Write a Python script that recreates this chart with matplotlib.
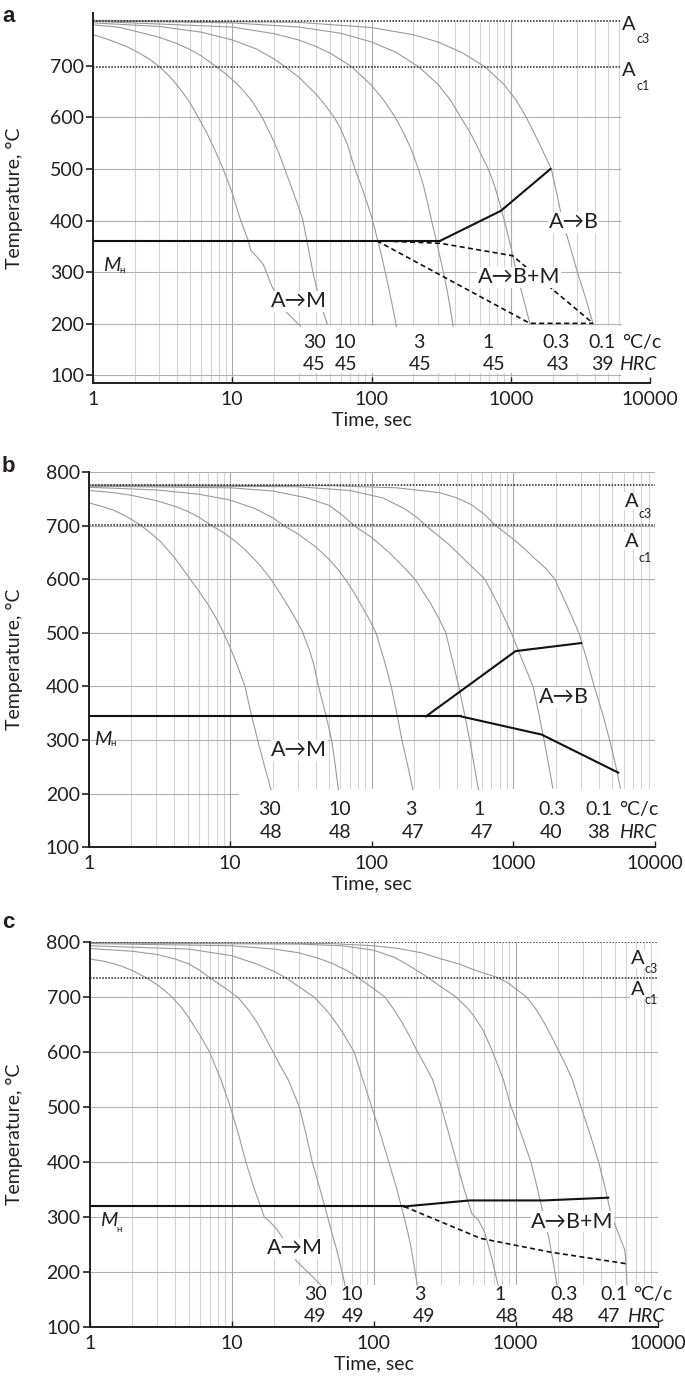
import matplotlib.pyplot as plt
from matplotlib.patches import Rectangle

plt.rcParams['font.family'] = ['Lato', 'DejaVu Sans']

TXT = '#231f20'
CURVE = '#9a9a9a'

t_ticks = [1, 10, 100, 1000, 10000]
rates = ['30', '10', '3', '1', '0.3', '0.1']

# ---------------- panel a ----------------
a_ac3, a_ac1 = 787, 697
a_hrc = ['45', '45', '45', '45', '43', '39']
a_rate_x = [39, 64, 217, 690, 2115, 4520]
a_hrc_x = [39, 66, 225, 753, 2190, 4520]
a_curve_t = [
    [1, 1.25, 1.5, 1.75, 2, 2.5, 3, 3.5, 4, 4.5, 5, 5.7, 6.5, 7.5, 8.6, 10, 11.5, 13, 13.6,
     15, 16.7, 19.3, 24, 31],
    [1, 1.5, 2, 3, 4, 5, 6, 7, 7.7, 9, 10.5, 12, 14, 16.4, 19, 21.5, 23.8, 27, 30, 32, 35,
     38, 43, 48],
    [1, 3, 6, 10, 15, 20, 24, 30, 40, 47, 54, 60, 67, 76, 85, 94, 102, 110, 118, 128, 140,
     151],
    [1, 10, 20, 30, 40, 50, 60, 72, 100, 125, 148, 170, 195, 217, 235, 255, 270, 290, 310,
     330, 348, 368, 386],
    [1, 10, 30, 60, 100, 150, 220, 300, 370, 437, 500, 560, 620, 690, 760, 820, 900, 1000,
     1100, 1230, 1374],
    [1, 30, 100, 200, 300, 450, 652, 900, 1100, 1294, 1600, 1955, 2150, 2350, 2700, 3010,
     3450, 3900],
]
a_curve_T = [
    [760, 752, 744, 737, 729, 714, 698, 681, 663, 645, 627, 600, 572, 537, 500, 453, 400,
     362, 342, 330, 315, 272, 225, 195],
    [779, 775, 767, 755, 743, 731, 719, 706, 698, 684, 668, 652, 630, 600, 565, 532, 500,
     460, 425, 403, 350, 299, 240, 200],
    [783, 776, 765, 750, 732, 713, 698, 678, 645, 622, 600, 578, 548, 500, 465, 430, 400,
     365, 332, 290, 240, 195],
    [786, 775, 762, 750, 737, 725, 712, 698, 662, 630, 600, 570, 535, 500, 470, 430, 400,
     365, 330, 297, 267, 230, 195],
    [787, 783, 775, 763, 746, 726, 697, 664, 633, 600, 575, 550, 525, 500, 470, 440, 400,
     350, 300, 250, 200],
    [788, 784, 774, 760, 746, 725, 698, 663, 632, 600, 550, 500, 450, 400, 345, 300, 250,
     200],
]
a_ms_t, a_ms_T = [1, 312], [361, 361]
a_bs_t, a_bs_T = [312, 850, 1930], [361, 419, 500]
a_d1_t, a_d1_T = [109, 312, 1030, 3900], [361, 356, 332, 201]
a_d2_t, a_d2_T = [109, 1370, 3900], [361, 201, 201]

# ---------------- panel b ----------------
b_ac3, b_ac1 = 776, 702
b_hrc = ['48', '48', '47', '47', '40', '38']
b_rate_x = [19, 59.5, 188, 570, 1860, 4000]
b_hrc_x = [19.4, 60, 194, 605, 1860, 4000]
b_curve_t = [
    [1, 1.25, 1.5, 1.75, 2, 2.3, 2.7, 3.2, 4, 5, 6, 7, 8, 8.9, 10, 11, 12, 12.7, 14, 15.6,
     17.5, 19.4],
    [1, 1.5, 2, 3, 4, 5, 6, 7.4, 9, 11, 13, 16, 19.4, 23, 27, 32, 36, 39, 42, 47, 52, 55, 58],
    [1, 3, 6, 10, 15, 20, 24, 30, 40, 50, 57, 65, 75, 85, 96, 107, 122, 137, 150, 163, 180,
     195],
    [1, 10, 20, 35, 50, 62, 75, 100, 130, 165, 202, 260, 300, 333, 370, 411, 450, 491, 530,
     566],
    [1, 30, 70, 120, 170, 210, 241, 300, 350, 420, 480, 550, 630, 790, 966, 1150, 1376, 1510,
     1645, 1770, 1897],
    [1, 50, 150, 300, 400, 500, 620, 753, 1000, 1200, 1400, 1700, 1964, 2400, 2900, 3300,
     3720, 4250, 4780, 5250, 5700],
]
b_curve_T = [
    [743, 736, 729, 721, 712, 702, 688, 671, 642, 607, 578, 552, 526, 502, 472, 445, 418,
     400, 350, 300, 250, 207],
    [766, 762, 757, 747, 737, 727, 716, 700, 687, 670, 653, 628, 600, 570, 540, 505, 470,
     440, 400, 350, 300, 255, 207],
    [772, 767, 759, 748, 732, 715, 700, 685, 661, 637, 620, 600, 575, 550, 525, 500, 450,
     400, 350, 300, 250, 207],
    [774, 771, 765, 752, 738, 720, 700, 678, 652, 625, 600, 555, 525, 500, 450, 400, 350,
     300, 250, 207],
    [775, 773, 766, 752, 732, 715, 700, 680, 665, 645, 630, 615, 600, 550, 500, 450, 400,
     350, 300, 255, 210],
    [776, 775, 771, 762, 752, 740, 722, 700, 675, 657, 640, 620, 600, 550, 500, 450, 400,
     350, 300, 255, 210],
]
b_ms_t, b_ms_T = [1, 426], [344, 344]
b_bs_t, b_bs_T = [241, 1036, 3010], [344, 466, 481]
b_bf_t, b_bf_T = [426, 1585, 5500], [344, 310, 239]

# ---------------- panel c ----------------
c_ac3, c_ac1 = 800, 735
c_hrc = ['49', '49', '49', '48', '48', '47']
c_rate_x = [39, 70, 213, 780, 2210, 4900]
c_hrc_x = [39, 71.5, 226, 866, 2170, 4570]
c_curve_t = [
    [1, 1.25, 1.5, 1.75, 2, 2.5, 3, 3.4, 3.8, 4.4, 5, 6, 7, 8.4, 9.8, 11.2, 12.6, 14.5, 17,
     18.3, 20.5, 22.6, 25.5, 28.8, 35, 42.7],
    [1, 2, 3, 4, 5, 6, 7, 9, 11, 13, 15, 17, 19.6, 22, 25, 30, 33.5, 37, 42, 47.5, 51, 55,
     59, 63],
    [1, 5, 10, 15, 20, 24, 30, 38, 45, 50, 60, 73, 84, 97, 112, 128, 146, 164, 175, 185,
     194, 203],
    [1, 10, 20, 30, 40, 50, 65, 78, 100, 120, 140, 160, 180, 204, 230, 260, 300, 340, 384,
     435, 492, 547, 580, 609, 680, 753],
    [1, 30, 60, 100, 140, 170, 205, 242, 300, 380, 450, 500, 590, 690, 820, 930, 1100, 1282,
     1430, 1585, 1720, 1850, 1960],
    [1, 50, 100, 150, 220, 290, 400, 500, 620, 754, 900, 1000, 1194, 1400, 1600, 1800, 2030,
     2270, 2510, 2890, 3350, 3845, 4300, 4750, 5300, 5880, 6000, 6090],
]
c_curve_T = [
    [769, 765, 760, 754, 748, 735, 722, 711, 700, 682, 662, 630, 600, 550, 500, 450, 400,
     350, 300, 293, 280, 264, 242, 219, 198, 176],
    [788, 783, 777, 769, 760, 748, 735, 716, 700, 678, 655, 630, 600, 575, 550, 500, 450,
     400, 350, 300, 270, 240, 208, 176],
    [793, 787, 775, 760, 746, 735, 718, 700, 680, 666, 637, 600, 550, 500, 450, 400, 350,
     300, 270, 240, 208, 176],
    [797, 793, 787, 780, 771, 762, 748, 735, 715, 700, 676, 652, 628, 600, 576, 550, 500,
     450, 400, 350, 306, 294, 282, 270, 225, 176],
    [798, 796, 793, 785, 772, 760, 747, 735, 718, 700, 682, 668, 640, 600, 550, 500, 450,
     400, 350, 300, 260, 215, 176],
    [799, 797, 793, 788, 780, 770, 760, 750, 742, 735, 724, 715, 700, 677, 652, 627, 600,
     575, 550, 500, 450, 400, 350, 300, 270, 240, 215, 176],
]
c_ms_t, c_ms_T = [1, 164], [319, 319]
c_bs_t, c_bs_T = [164, 475, 1585, 4500], [319, 330, 330, 335]
c_d_t, c_d_T = [164, 568, 1760, 6000], [319, 261, 236, 215]


def setup(ax, ylim, yticks):
    ax.set_xscale('log')
    ax.set_xlim(1, 10000)
    ax.set_ylim(*ylim)
    ax.minorticks_off()
    ax.set_xticks(t_ticks)
    ax.set_xticklabels([str(v) for v in t_ticks])
    ax.set_yticks(yticks)
    for s in ['top', 'right']:
        ax.spines[s].set_visible(False)
    for s in ['left', 'bottom']:
        ax.spines[s].set_linewidth(1.4)
        ax.spines[s].set_color(TXT)
    ax.tick_params(axis='y', direction='out', length=5, width=1.2, pad=1.5,
                   labelsize=14, colors=TXT)
    ax.tick_params(axis='x', direction='in', length=4, width=1.0, pad=6,
                   labelsize=14, colors=TXT)
    ax.set_xlabel('Time, sec', fontsize=14, color=TXT, labelpad=2)
    ax.set_ylabel('Temperature, °C', fontsize=14, color=TXT)
    ax.patch.set_visible(False)


def grid(ax, hlines, h_right, v_bottom, v_top, v_right):
    xs = [k * 10 ** n for n in range(4) for k in range(1, 10)] + [10000]
    for x in xs:
        if x <= 1 or x > v_right:
            continue
        major = x in (10, 100, 1000, 10000)
        ax.vlines(x, v_bottom, v_top, color='#a9a9a9' if major else '#d4d4d4',
                  lw=0.8, zorder=0.5)
    ax.hlines(hlines, 1, h_right, color='#b0b0b0', lw=0.8, zorder=0.6)


def curves(ax, ts, Ts):
    for t, T in zip(ts, Ts):
        ax.plot(t, T, color=CURVE, lw=0.8, zorder=2)


def sub_text(ax, x, y, main, sub, italic=False, dx=9, dy=-4, size=14.5,
             subsize=9, box=False):
    kw = dict(bbox=dict(facecolor='white', edgecolor='none', pad=0.5)) if box else {}
    ax.text(x, y, main, fontsize=size, color=TXT, ha='left', va='baseline',
            style='italic' if italic else 'normal', zorder=5, **kw)
    ax.annotate(sub, xy=(x, y), xytext=(dx, dy), textcoords='offset points',
                fontsize=subsize, color=TXT, ha='left', va='baseline', zorder=5)


def label(ax, x, y, s):
    ax.text(x, y, s, fontsize=15.5, color=TXT, ha='center', va='center', zorder=5,
            bbox=dict(facecolor='white', edgecolor='none', pad=0.3))


def rate_rows(ax, rx, ry, hx, hrc, hy, unit_x, hrc_unit_x):
    for x, r in zip(rx, rates):
        ax.text(x, ry, r, fontsize=14, color=TXT, ha='center', va='center', zorder=5)
    for x, h in zip(hx, hrc):
        ax.text(x, hy, h, fontsize=14, color=TXT, ha='center', va='center', zorder=5)
    ax.text(unit_x, ry, '°C/c', fontsize=14, color=TXT, ha='left', va='center', zorder=5)
    ax.text(hrc_unit_x, hy, 'HRC', fontsize=14, color=TXT, ha='left', va='center',
            style='italic', zorder=5)


fig = plt.figure(figsize=(6.85, 13.87), dpi=100)
ax_a = fig.add_axes([0.1358, 0.7239, 0.8131, 0.2669])
ax_b = fig.add_axes([0.1295, 0.3893, 0.8267, 0.2702])
ax_c = fig.add_axes([0.1308, 0.0433, 0.8291, 0.2776])

# ---- a ----
ax = ax_a
setup(ax, (85.5, 802.6), [100, 200, 300, 400, 500, 600, 700])
grid(ax, [100, 200, 300, 400, 500, 600], 6200, 85.5, a_ac3, 6000)
ax.add_patch(Rectangle((24, 104), 9000, 92, facecolor='white', edgecolor='none', zorder=1))
curves(ax, a_curve_t, a_curve_T)
ax.hlines([a_ac3, a_ac1], 1, 6200, color=TXT, lw=1.1, linestyles=(0, (1, 1)), zorder=3)
ax.plot(a_ms_t, a_ms_T, color='#111', lw=1.5, zorder=4)
ax.plot(a_bs_t, a_bs_T, color='#111', lw=1.5, zorder=4)
ax.plot(a_d1_t, a_d1_T, color='#111', lw=1.2, ls=(0, (3, 2)), zorder=4)
ax.plot(a_d2_t, a_d2_T, color='#111', lw=1.2, ls=(0, (3, 2)), zorder=4)
label(ax, 2820, 397, 'A→B')
label(ax, 1145, 290, 'A→B+M')
label(ax, 30, 244, 'A→M')
sub_text(ax, 1.17, 302, 'M', 'н', italic=True, dx=12, dy=-1, subsize=7)
sub_text(ax, 6320, 770, 'A', 'c3', dx=10, dy=-10)
sub_text(ax, 6320, 680, 'A', 'c1', dx=10, dy=-10)
rate_rows(ax, a_rate_x, 163, a_hrc_x, a_hrc, 121, 6300, 5950)

# ---- b ----
ax = ax_b
setup(ax, (100, 800), [100, 200, 300, 400, 500, 600, 700, 800])
grid(ax, [300, 400, 500, 600, 700, 800], 10000, 100, 800, 10000)
ax.hlines(200, 1, 11.6, color='#b0b0b0', lw=0.8, zorder=0.6)
ax.add_patch(Rectangle((11.6, 101), 10000, 107, facecolor='white', edgecolor='none', zorder=1))
curves(ax, b_curve_t, b_curve_T)
ax.hlines([b_ac3, b_ac1], 1, 10000, color=TXT, lw=1.1, linestyles=(0, (1, 1)), zorder=3)
ax.plot(b_ms_t, b_ms_T, color='#111', lw=1.5, zorder=4)
ax.plot(b_bs_t, b_bs_T, color='#111', lw=1.5, zorder=4)
ax.plot(b_bf_t, b_bf_T, color='#111', lw=1.5, zorder=4)
label(ax, 2264, 380, 'A→B')
label(ax, 30.7, 281, 'A→M')
sub_text(ax, 1.09, 291, 'M', 'н', italic=True, dx=12, dy=-1, subsize=7)
sub_text(ax, 6140, 736, 'A', 'c3', dx=10, dy=-8, box=True)
sub_text(ax, 6140, 661, 'A', 'c1', dx=10, dy=-11, box=True)
rate_rows(ax, b_rate_x, 171, b_hrc_x, b_hrc, 128, 5600, 5600)

# ---- c ----
ax = ax_c
setup(ax, (100, 800), [100, 200, 300, 400, 500, 600, 700, 800])
grid(ax, [200, 300, 400, 500, 600, 700], 10000, 100, 800, 10000)
ax.add_patch(Rectangle((28, 101), 10000, 76, facecolor='white', edgecolor='none', zorder=1))
curves(ax, c_curve_t, c_curve_T)
ax.hlines([c_ac3, c_ac1], 1, 10000, color=TXT, lw=1.1, linestyles=(0, (1, 1)), zorder=3)
ax.plot(c_ms_t, c_ms_T, color='#111', lw=1.5, zorder=4)
ax.plot(c_bs_t, c_bs_T, color='#111', lw=1.5, zorder=4)
ax.plot(c_d_t, c_d_T, color='#111', lw=1.2, ls=(0, (3, 2)), zorder=4)
label(ax, 2510, 291, 'A→B+M')
label(ax, 27.9, 243, 'A→M')
sub_text(ax, 1.18, 283, 'M', 'н', italic=True, dx=12, dy=-4, subsize=7)
sub_text(ax, 6500, 759, 'A', 'c3', dx=10, dy=-6, box=True)
sub_text(ax, 6500, 703, 'A', 'c1', dx=10, dy=-6, box=True)
rate_rows(ax, c_rate_x, 159, c_hrc_x, c_hrc, 118.5, 6700, 6100)

for ax in (ax_a, ax_b, ax_c):
    pos = ax.get_position()
    ax.yaxis.set_label_coords((23 - pos.x0 * 685) / (pos.width * 685), 0.5)

for s, y in [('a', 17), ('b', 467), ('c', 923)]:
    fig.text(2 / 685, 1 - y / 1387, s, fontsize=16, fontweight='bold',
             family=['Liberation Sans', 'DejaVu Sans'], ha='left', va='center', color=TXT)

fig.savefig('out.png', dpi=100)
